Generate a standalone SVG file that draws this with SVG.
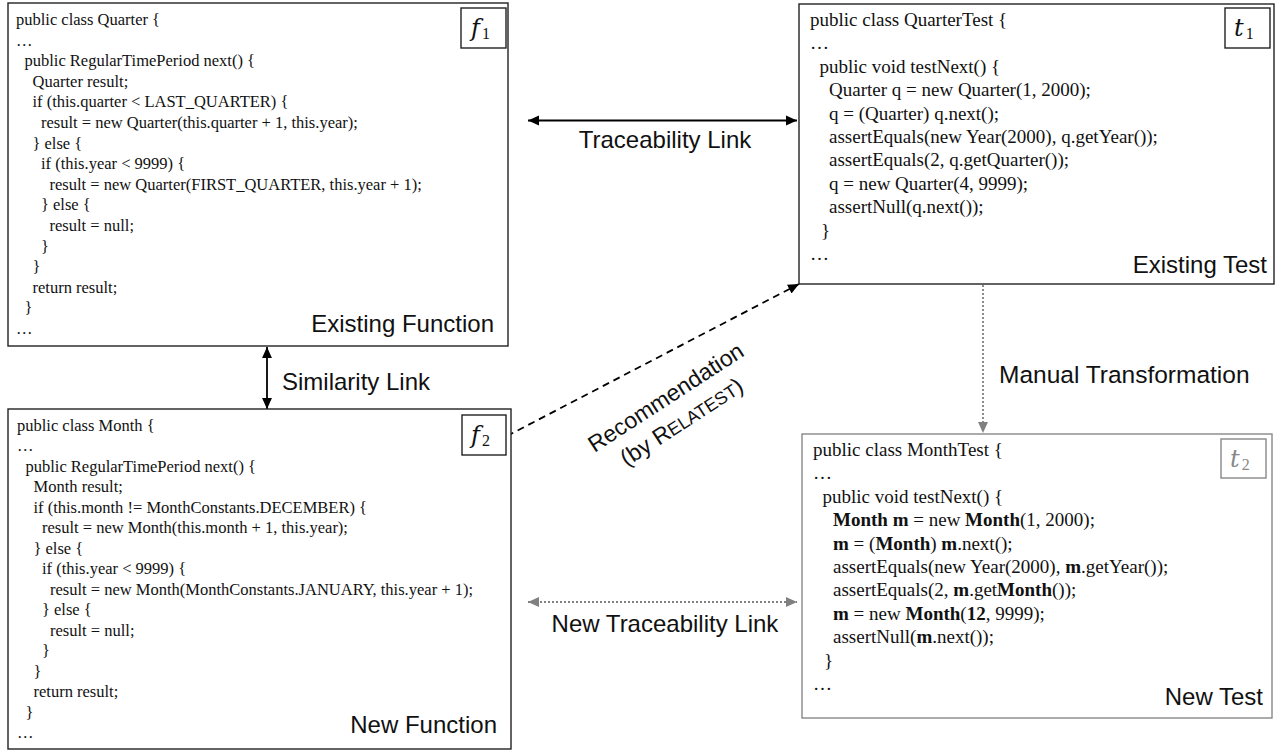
<svg xmlns="http://www.w3.org/2000/svg" width="1281" height="751" viewBox="0 0 1281 751">
<style>
.box{fill:#fff;stroke:#222;stroke-width:1.4}
.gbox{fill:#fff;stroke:#888;stroke-width:1.4}
.code{font-family:"Liberation Serif","Times New Roman",serif;font-size:16.5px;fill:#111}
.tcode{font-family:"Liberation Serif","Times New Roman",serif;font-size:19px;fill:#111}
.lbl{font-family:"Liberation Sans",Arial,sans-serif;font-size:24px;fill:#111}
.tag{font-family:"DejaVu Serif","Liberation Serif",serif;font-style:italic;font-size:24px;fill:#111}
.sub{font-family:"Liberation Serif",serif;font-style:normal;font-size:16px}
.b{font-weight:bold}
</style>
<defs>
<marker id="ah" viewBox="0 0 10 10" refX="10" refY="5" markerWidth="11" markerHeight="11" markerUnits="userSpaceOnUse" orient="auto-start-reverse"><path d="M0,0.5 L10,5 L0,9.5 Z" fill="#000"/></marker>
<marker id="gh" viewBox="0 0 10 10" refX="10" refY="5" markerWidth="11" markerHeight="11" markerUnits="userSpaceOnUse" orient="auto-start-reverse"><path d="M0,0.5 L10,5 L0,9.5 Z" fill="#808080"/></marker>
</defs>

<g id="connectors">
<line x1="528" y1="120.5" x2="797" y2="120.5" stroke="#000" stroke-width="1.8" marker-start="url(#ah)" marker-end="url(#ah)"/>
<text class="lbl" x="665" y="148" text-anchor="middle">Traceability Link</text>
<line x1="267" y1="347" x2="267" y2="409" stroke="#000" stroke-width="1.8" marker-start="url(#ah)" marker-end="url(#ah)"/>
<text class="lbl" x="282" y="390">Similarity Link</text>
<line x1="507" y1="436" x2="799" y2="284" stroke="#000" stroke-width="1.8" stroke-dasharray="7 5" marker-end="url(#ah)"/>
<g transform="translate(670,404) rotate(-33)">
<text class="lbl" x="0" y="0" text-anchor="middle" style="font-size:23px">Recommendation</text>
<text class="lbl" x="0" y="29" text-anchor="middle" style="font-size:23px">(by R<tspan style="font-size:18px">ELATEST</tspan>)</text>
</g>
<line x1="983" y1="285" x2="983" y2="433" stroke="#808080" stroke-width="1.8" stroke-dasharray="2 2" marker-end="url(#gh)"/>
<text class="lbl" x="999" y="383" style="font-size:24.5px">Manual Transformation</text>
<line x1="528" y1="602" x2="797" y2="602" stroke="#808080" stroke-width="1.8" stroke-dasharray="2 2" marker-start="url(#gh)" marker-end="url(#gh)"/>
<text class="lbl" x="665" y="632" text-anchor="middle">New Traceability Link</text>
</g>

<g id="f1">
<rect class="box" x="8" y="3" width="500" height="343"/>
<rect class="box" x="461" y="8" width="45" height="40"/>
<text class="tag" x="471" y="36">f<tspan class="sub" dx="2" dy="3">1</tspan></text>
<text class="code">
<tspan x="16" y="25">public class Quarter {</tspan>
<tspan x="16" y="45.6">…</tspan>
<tspan x="24.5" y="66.2">public RegularTimePeriod next() {</tspan>
<tspan x="32.5" y="86.8">Quarter result;</tspan>
<tspan x="32.5" y="107.4">if (this.quarter &lt; LAST_QUARTER) {</tspan>
<tspan x="41" y="128">result = new Quarter(this.quarter + 1, this.year);</tspan>
<tspan x="32.5" y="148.6">} else {</tspan>
<tspan x="41" y="169.2">if (this.year &lt; 9999) {</tspan>
<tspan x="49.5" y="189.8">result = new Quarter(FIRST_QUARTER, this.year + 1);</tspan>
<tspan x="41" y="210.4">} else {</tspan>
<tspan x="49.5" y="231">result = null;</tspan>
<tspan x="41" y="251.6">}</tspan>
<tspan x="32.5" y="272.2">}</tspan>
<tspan x="32.5" y="292.8">return result;</tspan>
<tspan x="24.5" y="313.4">}</tspan>
<tspan x="16" y="334">…</tspan>
</text>
<text class="lbl" x="494" y="332" text-anchor="end">Existing Function</text>
</g>

<g id="f2">
<rect class="box" x="8" y="409" width="503" height="340"/>
<rect class="box" x="462" y="415" width="44" height="40"/>
<text class="tag" x="471" y="443">f<tspan class="sub" dx="2" dy="3">2</tspan></text>
<text class="code">
<tspan x="17" y="430.7">public class Month {</tspan>
<tspan x="17" y="451.2">…</tspan>
<tspan x="25.5" y="471.7">public RegularTimePeriod next() {</tspan>
<tspan x="33.5" y="492.2">Month result;</tspan>
<tspan x="33.5" y="512.7">if (this.month != MonthConstants.DECEMBER) {</tspan>
<tspan x="42" y="533.2">result = new Month(this.month + 1, this.year);</tspan>
<tspan x="33.5" y="553.7">} else {</tspan>
<tspan x="42" y="574.2">if (this.year &lt; 9999) {</tspan>
<tspan x="50" y="594.7">result = new Month(MonthConstants.JANUARY, this.year + 1);</tspan>
<tspan x="42" y="615.2">} else {</tspan>
<tspan x="50" y="635.7">result = null;</tspan>
<tspan x="42" y="656.2">}</tspan>
<tspan x="33.5" y="676.7">}</tspan>
<tspan x="33.5" y="697.2">return result;</tspan>
<tspan x="25.5" y="717.7">}</tspan>
<tspan x="17" y="738.2">…</tspan>
</text>
<text class="lbl" x="497" y="733" text-anchor="end">New Function</text>
</g>

<g id="t1">
<rect class="box" x="799" y="4" width="475" height="280"/>
<rect class="box" x="1225" y="8" width="45" height="40"/>
<text class="tag" x="1234" y="36">t<tspan class="sub" dx="2" dy="3">1</tspan></text>
<text class="tcode">
<tspan x="810" y="26">public class QuarterTest {</tspan>
<tspan x="810" y="49.4">…</tspan>
<tspan x="819.5" y="72.8">public void testNext() {</tspan>
<tspan x="829" y="96.2">Quarter q = new Quarter(1, 2000);</tspan>
<tspan x="829" y="119.6">q = (Quarter) q.next();</tspan>
<tspan x="829" y="143">assertEquals(new Year(2000), q.getYear());</tspan>
<tspan x="829" y="166.4">assertEquals(2, q.getQuarter());</tspan>
<tspan x="829" y="189.8">q = new Quarter(4, 9999);</tspan>
<tspan x="829" y="213.2">assertNull(q.next());</tspan>
<tspan x="821" y="236.6">}</tspan>
<tspan x="810" y="260">…</tspan>
</text>
<text class="lbl" x="1267" y="273" text-anchor="end">Existing Test</text>
</g>

<g id="t2">
<rect class="gbox" x="802" y="434" width="470" height="284"/>
<rect class="gbox" x="1221" y="439" width="45" height="39"/>
<text class="tag" x="1230" y="467" style="fill:#888">t<tspan class="sub" dx="2" dy="3">2</tspan></text>
<text class="tcode">
<tspan x="813" y="456">public class MonthTest {</tspan>
<tspan x="813" y="479.4">…</tspan>
<tspan x="822.5" y="502.8">public void testNext() {</tspan>
<tspan x="833" y="526.2"><tspan class="b">Month m</tspan> = new <tspan class="b">Month</tspan>(1, 2000);</tspan>
<tspan x="833" y="549.6"><tspan class="b">m</tspan> = (<tspan class="b">Month</tspan>) <tspan class="b">m</tspan>.next();</tspan>
<tspan x="833" y="573">assertEquals(new Year(2000), <tspan class="b">m</tspan>.getYear());</tspan>
<tspan x="833" y="596.4">assertEquals(2, <tspan class="b">m</tspan>.get<tspan class="b">Month</tspan>());</tspan>
<tspan x="833" y="619.8"><tspan class="b">m</tspan> = new <tspan class="b">Month</tspan>(<tspan class="b">12</tspan>, 9999);</tspan>
<tspan x="833" y="643.2">assertNull(<tspan class="b">m</tspan>.next());</tspan>
<tspan x="824" y="666.6">}</tspan>
<tspan x="813" y="690">…</tspan>
</text>
<text class="lbl" x="1263" y="705" text-anchor="end">New Test</text>
</g>
</svg>
